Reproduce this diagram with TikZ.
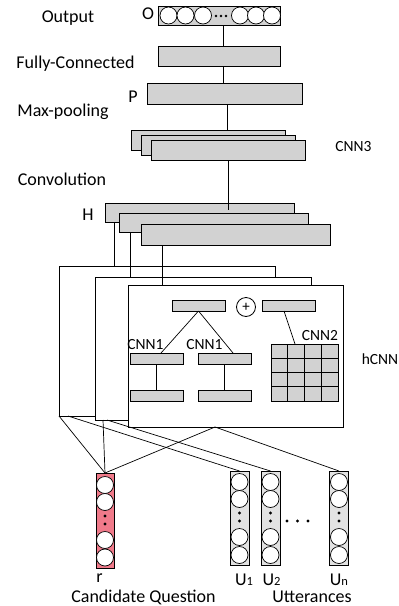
\documentclass[tikz,border=0pt]{standalone}
\usepackage{fontspec}
\setmainfont{Carlito}
\usetikzlibrary{calc}
\definecolor{boxgray}{RGB}{210,210,210}
\definecolor{vecgray}{RGB}{226,226,226}
\definecolor{pinkfill}{RGB}{240,122,138}
\begin{document}
\begin{tikzpicture}[x=1pt,y=-1pt,line width=0.7pt,
  bigtxt/.style={font=\fontsize{18}{19}\selectfont,inner sep=0},
  smalltxt/.style={font=\fontsize{15.5}{16}\selectfont,inner sep=0},
  gbox/.style={draw,fill=boxgray,inner sep=0,outer sep=0,line width=0.8pt},
  frame/.style={draw,fill=white,inner sep=0,outer sep=0,line width=0.8pt},
  neuron/.style={circle,draw,fill=white,inner sep=0,minimum size=17pt,line width=0.7pt},
  dotn/.style={circle,fill=black,inner sep=0,minimum size=3.4pt},
  rvec/.style={draw,fill=pinkfill,inner sep=0,outer sep=0,minimum width=18pt,minimum height=95pt,line width=0.8pt},
  uvec/.style={draw,fill=vecgray,inner sep=0,outer sep=0,minimum width=19pt,minimum height=94pt,line width=0.8pt}
]
\useasboundingbox (0,0) rectangle (399,606);

% ---- output layer ----
\node[gbox,minimum width=122pt,minimum height=19pt] (outbar) at (219,15.5) {};
\foreach \i/\x in {1/168.5,2/185.5,3/203,4/240,5/256,6/272}
  \node[neuron] (o\i) at (\x,15.5) {};
\foreach \i/\x in {1/216,2/221,3/226}
  \node[dotn,minimum size=2.8pt] (od\i) at (\x,16) {};
\node[bigtxt] (lout) at (68,18) {Output};
\node[bigtxt] (lo) at (148,14) {O};

% ---- fully connected ----
\node[gbox,minimum width=122pt,minimum height=20pt] (fc) at (219,56) {};
\node[bigtxt] (lfc) at (75.5,64) {Fully-Connected};

% ---- max pooling ----
\node[gbox,minimum width=155pt,minimum height=21pt] (pbox) at (224.5,93.5) {};
\node[bigtxt] (lp) at (133,97) {P};
\node[bigtxt] (lmp) at (63,112) {Max-pooling};

% ---- CNN3 convolution stack ----
\node[gbox,minimum width=154pt,minimum height=20pt] (ca) at (208,140) {};
\node[gbox,minimum width=154pt,minimum height=20pt] (cb) at (218,145.5) {};
\node[gbox,minimum width=154pt,minimum height=20pt] (cc) at (228,150) {};
\node[smalltxt] (lcnn3) at (353.5,147) {CNN3};
\node[bigtxt] (lconv) at (62,179) {Convolution};

\draw ([xshift=4pt]outbar.south) -- ([xshift=4pt]outbar.south |- fc.north);
\draw ([xshift=4pt]fc.south) -- ([xshift=4pt]fc.south |- pbox.north);
\draw ([xshift=2.5pt]pbox.south) -- ([xshift=2.5pt]pbox.south |- ca.north);

% ---- H stack ----
\node[gbox,minimum width=189pt,minimum height=19pt] (h1) at (199.5,212.5) {};
\node[gbox,minimum width=189pt,minimum height=19pt] (h2) at (213.5,222.5) {};
\node[gbox,minimum width=189pt,minimum height=21pt] (h3) at (235.5,234.5) {};
\node[bigtxt] (lh) at (88,215) {H};
\draw (cc.south) -- ([yshift=-7pt]cc.south |- h1.north);

% ---- hCNN frames ----
\node[frame,minimum width=216pt,minimum height=150pt] (f1) at (167,341) {};
\node[frame,minimum width=216pt,minimum height=143pt] (f2) at (203,348.5) {};
\node[frame,minimum width=215pt,minimum height=142pt] (f3) at (235.5,356) {};
\node[smalltxt] (lhcnn) at (380,359) {hCNN};

\draw ([xshift=9pt]h1.south west) -- ([xshift=9pt]h1.south west |- f1.north);
\draw ([xshift=11pt]h2.south west) -- ([xshift=11pt]h2.south west |- f2.north);
\draw ([xshift=21pt]h3.south west) -- ([xshift=21pt]h3.south west |- f3.north);

% inner content
\node[gbox,minimum width=53pt,minimum height=11pt] (tl) at (198.5,305.5) {};
\node[circle,draw,inner sep=0,minimum size=19pt,line width=0.8pt,font=\fontsize{15}{15}\selectfont] (plus) at (246,307) {+};
\node[gbox,minimum width=53pt,minimum height=11pt] (tr) at (288.5,305.5) {};
\node[gbox,minimum width=53pt,minimum height=11pt] (c1l) at (156.5,358.5) {};
\node[gbox,minimum width=53pt,minimum height=11pt] (c1r) at (224.5,358.5) {};
\node[gbox,minimum width=53pt,minimum height=11pt] (bl) at (156.5,395.5) {};
\node[gbox,minimum width=53pt,minimum height=11pt] (br) at (224.5,395.5) {};
\node[gbox,minimum width=67pt,minimum height=57pt] (grid) at (304.5,372.5) {};
\foreach \k in {1,2,3}{
  \draw ($(grid.north west)!\k/4!(grid.north east)$) -- ($(grid.south west)!\k/4!(grid.south east)$);
  \draw ($(grid.north west)!\k/4!(grid.south west)$) -- ($(grid.north east)!\k/4!(grid.south east)$);
}
\node[smalltxt] (lc1a) at (145.5,345) {CNN1};
\node[smalltxt] (lc1b) at (204.5,345) {CNN1};
\node[smalltxt] (lc2) at (320,336) {CNN2};

\draw (tl.south) -- ([xshift=4.5pt]c1l.north);
\draw (tl.south) -- ([xshift=8.5pt]c1r.north);
\draw (c1l.south) -- (bl.north);
\draw (c1r.south) -- (br.north);
\draw ([xshift=-4.5pt]tr.south) -- ([xshift=-9.5pt]grid.north);

% ---- input vectors ----
\node[rvec] (r) at (105,520.5) {};
\foreach \i/\y in {1/485,2/502,3/540,4/557.5}
  \node[neuron] (r\i) at (105,\y) {};
\node[dotn] (rd1) at (105,516) {};
\node[dotn] (rd2) at (105,524) {};

\foreach \n/\x in {u1/239.5,u2/270.5,un/339}{
  \node[uvec] (\n) at (\x,518) {};
  \foreach \i/\y in {1/482,2/499,3/537,4/555}
    \node[neuron] (\n c\i) at (\x,\y) {};
  \node[dotn] (\n d1) at (\x,513) {};
  \node[dotn] (\n d2) at (\x,521) {};
}
\foreach \i/\x in {1/287,2/297.5,3/308}
  \node[dotn] (ell\i) at (\x,521) {};

\node[bigtxt] (lr) at (99.5,578) {r};
\node[bigtxt] (lu1) at (244,580) {U{\fontsize{12.5}{12}\selectfont 1}};
\node[bigtxt] (lu2) at (271.5,580) {U{\fontsize{12.5}{12}\selectfont 2}};
\node[bigtxt] (lun) at (339,580) {U{\fontsize{12.5}{12}\selectfont n}};
\node[bigtxt] (lcq) at (143.5,597) {Candidate Question};
\node[bigtxt] (lutt) at (312,597) {Utterances};

% ---- connectors from frames to inputs ----
\draw (f1.south west) -- (r.north);
\draw ([xshift=9pt]f1.south west) -- (u1.north);
\draw ([xshift=8pt]f2.south west) -- (r.north);
\draw ([xshift=12pt]f2.south west) -- (u2.north);
\draw ([xshift=-20.5pt]f3.south) -- (r.north);
\draw ([xshift=-20.5pt]f3.south) -- (un.north);
\end{tikzpicture}
\end{document}
